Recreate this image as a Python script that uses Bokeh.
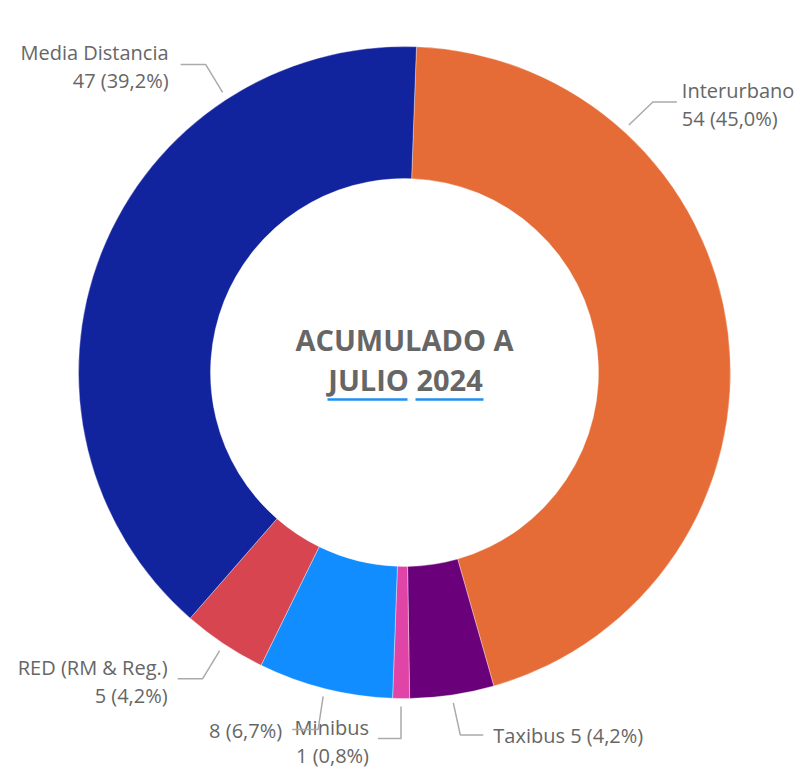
import math
from bokeh.plotting import figure
from bokeh.models import Range1d, ColumnDataSource
from bokeh.embed import file_html
from bokeh.resources import INLINE
from bokeh.core.properties import value

# ---------------- data ----------------
categories = ["Interurbano", "Taxibus", "Minibus", "", "RED (RM & Reg.)", "Media Distancia"]
counts = [54, 5, 1, 8, 5, 47]
colors = ["#E66C37", "#6B007B", "#E044A7", "#118DFF", "#D64550", "#12239E"]
center_lines = ["ACUMULADO A", "JULIO 2024"]

# ---------------- layout ----------------
W, H = 800, 770
CX, CY = 404, 372            # centre, picture pixel coords (y down)
R_OUT, R_IN = 326, 194
START_DEG = 2.1              # clockwise offset from 12 o'clock
LEADER_R = 334
FONT = "Open Sans"
LABEL_PX = 20
CENTER_PX = 29
TEXT_COL = "#666666"
LINE_COL = "#AAAAAA"
BASE_FIX = 0.37              # baseline correction (em)

# per-slice label layout: (leader angle override, elbow dx, elbow dy, horizontal dx, text gap, two_lines)
label_layout = [
    (42.2, 24, -23, 24, 5, True),    # Interurbano
    (None, 7, 32, 23, 10, False),    # Taxibus
    (None, 0, 32, -23, 9, True),     # Minibus
    (None, -5, 33, -26, 10, False),  # 8
    (None, -17, 28, -25, 10, True),  # RED
    (327.0, -17, -28, -25, 12, True),  # Media Distancia
]


def Y(y):  # picture y (down) -> data y (up)
    return H - y


def polar(theta_deg, r):
    t = math.radians(theta_deg)
    return CX + r * math.sin(t), CY - r * math.cos(t)


def put_text(x, baseline, t, align, size, bold=False):
    p.text(x=[x], y=[Y(baseline - BASE_FIX * size)], text=[t], text_align=align,
           text_baseline="alphabetic", text_font=value(FONT), text_font_size=f"{size}px",
           text_font_style="bold" if bold else "normal", text_color=TEXT_COL)


total = sum(counts)
pcts = [c / total * 100 for c in counts]
pct_txt = [f"{v:.1f}".replace(".", ",") + "%" for v in pcts]

starts, ends = [], []
acc = START_DEG
for c in counts:
    a0 = acc
    a1 = acc + c / total * 360.0
    starts.append(a0)
    ends.append(a1)
    acc = a1

p = figure(width=W, height=H, output_backend="svg", toolbar_location=None,
           x_range=Range1d(0, W), y_range=Range1d(0, H),
           min_border=0, outline_line_color=None)
p.axis.visible = False
p.grid.visible = False
p.background_fill_color = "white"
p.border_fill_color = "white"

src = ColumnDataSource(dict(
    x=[CX] * len(counts), y=[Y(CY)] * len(counts),
    sa=[math.radians(90 - e) for e in ends],
    ea=[math.radians(90 - s) for s in starts],
    color=colors,
))
p.annular_wedge(x="x", y="y", inner_radius=R_IN, outer_radius=R_OUT,
                start_angle="sa", end_angle="ea", direction="anticlock",
                fill_color="color", line_color="white", line_width=0.6, line_alpha=0.6,
                source=src)

# leader lines + labels
for i, (cat, cnt) in enumerate(zip(categories, counts)):
    ang_override, edx, edy, hdx, gap, two = label_layout[i]
    mid = (starts[i] + ends[i]) / 2
    ang = ang_override if ang_override is not None else mid
    sx, sy = polar(ang, LEADER_R)
    ex, ey = sx + edx, sy + edy
    fx, fy = ex + hdx, ey
    p.line([sx, ex, fx], [Y(sy), Y(ey), Y(fy)], line_color=LINE_COL, line_width=1.5)
    align = "left" if hdx > 0 else "right"
    tx = fx + gap if hdx > 0 else fx - gap
    vtxt = f"{cnt} ({pct_txt[i]})"
    if cat == "":
        lines = [(vtxt, fy + 8)]
    elif two:
        lines = [(cat, fy - 4), (vtxt, fy + 24)]
    else:
        lines = [(f"{cat} {vtxt}", fy + 8)]
    for t, by in lines:
        put_text(tx, by, t, align, LABEL_PX)

# centre text
put_text(CX, CY - 22, center_lines[0], "center", CENTER_PX, bold=True)
put_text(CX + 1, CY + 18, center_lines[1], "center", CENTER_PX, bold=True)
# spell-check style underlines under the second line's words
for a, b in [(-77, 3), (11, 79)]:
    p.line([CX + a, CX + b], [Y(CY + 27)] * 2, line_color="#1E8FF5", line_width=2.5)

open("out.html", "w").write(file_html(p, INLINE))
